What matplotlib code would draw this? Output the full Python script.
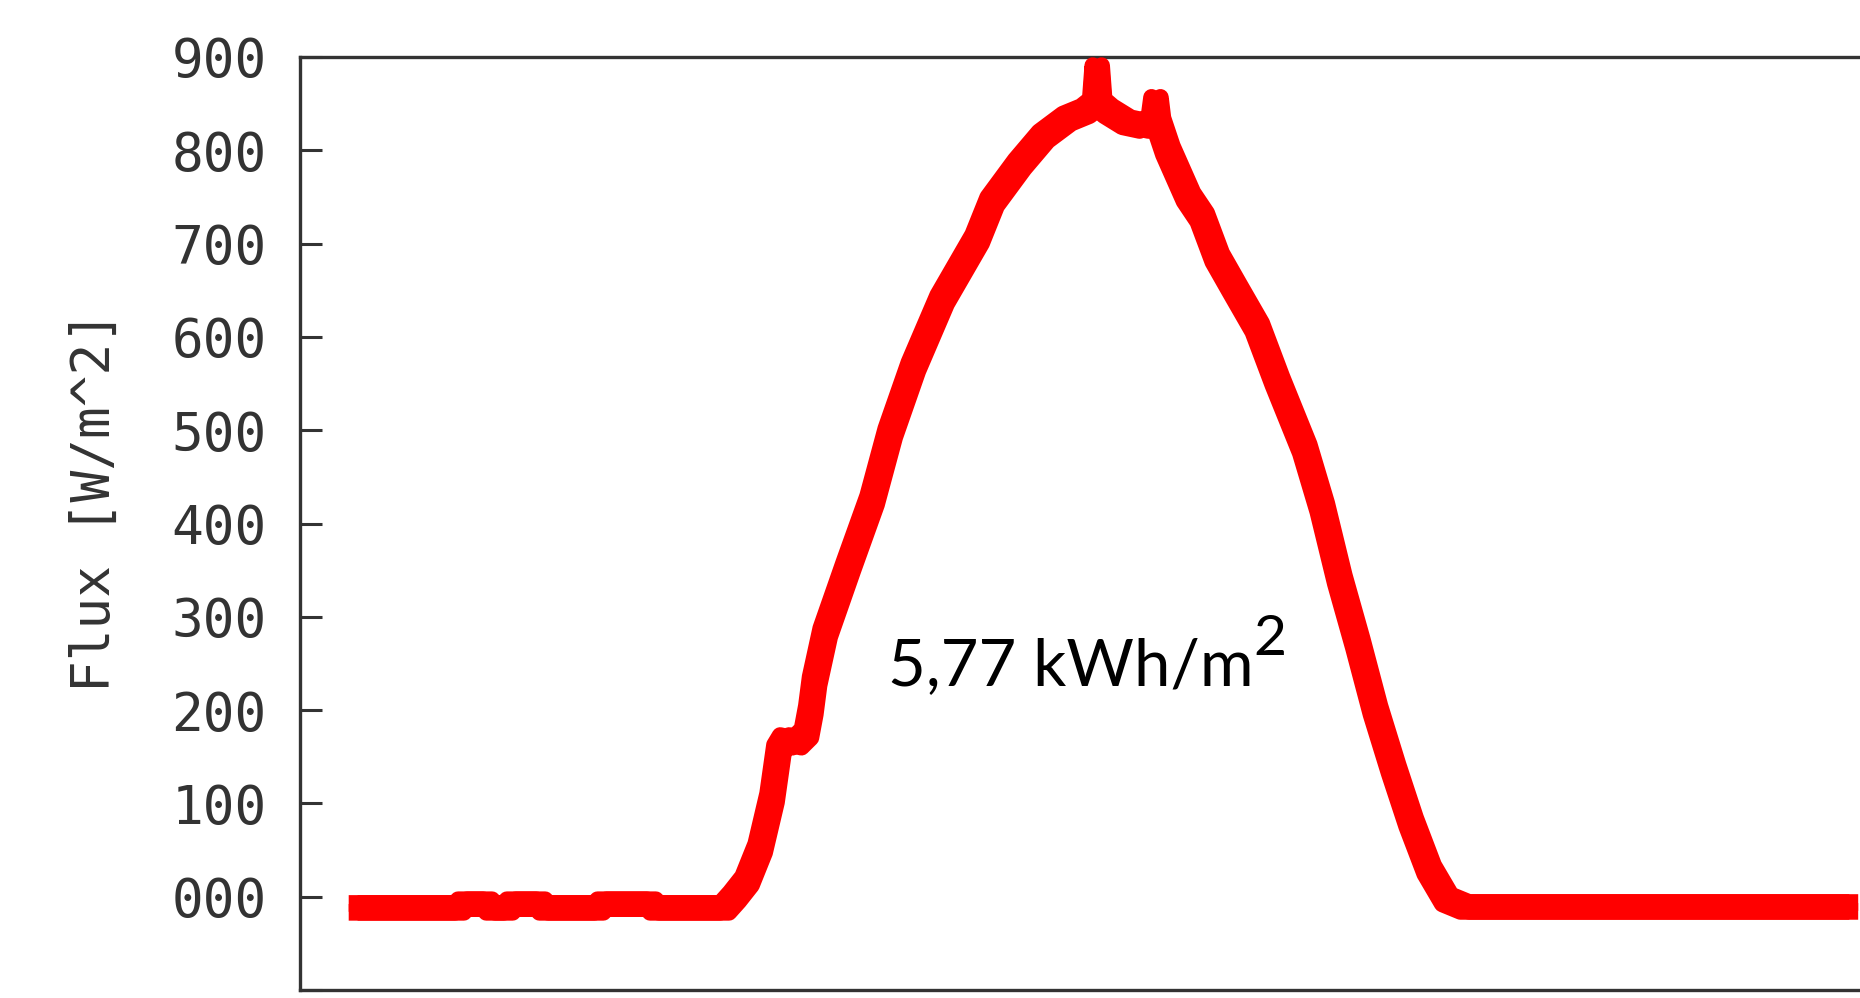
import matplotlib.pyplot as plt
import matplotlib.patheffects as pe

# flux over one day (hours, W/m^2)
hours = [0.0, 1.70, 1.75, 2.15, 2.20, 2.48, 2.53, 3.00, 3.05, 3.93, 3.98, 4.77, 4.82,
         5.94, 6.10, 6.30, 6.51, 6.70, 6.81, 6.90, 7.10, 7.25, 7.32, 7.38, 7.55,
         7.92, 8.30, 8.59, 8.96, 9.42, 9.98, 10.22, 10.66, 11.04, 11.42, 11.71,
         11.86, 11.90, 11.94, 12.08, 12.37, 12.65, 12.80, 12.84, 12.88, 13.03,
         13.36, 13.58, 13.82, 14.10, 14.46, 14.78, 15.22, 15.50, 15.78, 16.07,
         16.35, 16.64, 16.92, 17.21, 17.49, 17.78, 24.0]
flux = [-12, -12, -8, -8, -12, -12, -8, -8, -12, -12, -8, -8, -12,
        -12, 0, 17, 52, 106, 158, 168, 165, 175, 200, 231, 283,
        354, 425, 497, 568, 640, 705, 745, 785, 815, 834, 842,
        850, 886, 850, 842, 830, 826, 832, 852, 830, 800,
        750, 728, 685, 652, 610, 553, 480, 417, 340, 271,
        200, 137, 80, 29, -3, -11, -11]

ytick_vals = [-100, 0, 100, 200, 300, 400, 500, 600, 700, 800, 900]
ytick_text = ['', '000', '100', '200', '300', '400', '500', '600', '700', '800', '900']

W, H = 1860, 998
fig = plt.figure(figsize=(W / 100, H / 100), dpi=100)
ax = fig.add_axes([300 / W, 8 / H, 1 - 300 / W, (990 - 57) / H])

# thick "square pen" look of the marker trail
d = 3.2
pen = [pe.Stroke(offset=(dx, dy)) for dx in (-d, d) for dy in (-d, d)] + [pe.Normal()]
ax.plot(hours, flux, color='#ff0000', lw=12, solid_joinstyle='round',
        solid_capstyle='butt', clip_on=False, zorder=5, path_effects=pen)

ax.set_xlim(-0.85, 24.1)
ax.set_ylim(-100, 900)

for s in ['left', 'top', 'bottom']:
    ax.spines[s].set_linewidth(2.4)
    ax.spines[s].set_color('#333333')
ax.spines['right'].set_visible(False)

ax.set_xticks([])
ax.set_yticks(ytick_vals)
ax.set_yticklabels(ytick_text, family='DejaVu Sans Mono', fontsize=38, color='#333333')
ax.tick_params(axis='y', direction='in', length=16, width=2.2, color='#333333', pad=24)

fig.text(95 / W, 1 - 502 / H, 'Flux [W/m^2]', rotation=90, ha='center', va='center',
         family='DejaVu Sans Mono', fontsize=38, color='#333333')

txt = ax.text(8.55, 227, '5,77 kWh/m', family='Lato', fontsize=47,
              ha='left', va='baseline', color='black')
ax.annotate('2', xy=(1, 0), xycoords=txt, xytext=(0, 22), textcoords='offset points',
            family='Lato', fontsize=41, ha='left', va='bottom', color='black')

fig.savefig('out.png', dpi=100)
